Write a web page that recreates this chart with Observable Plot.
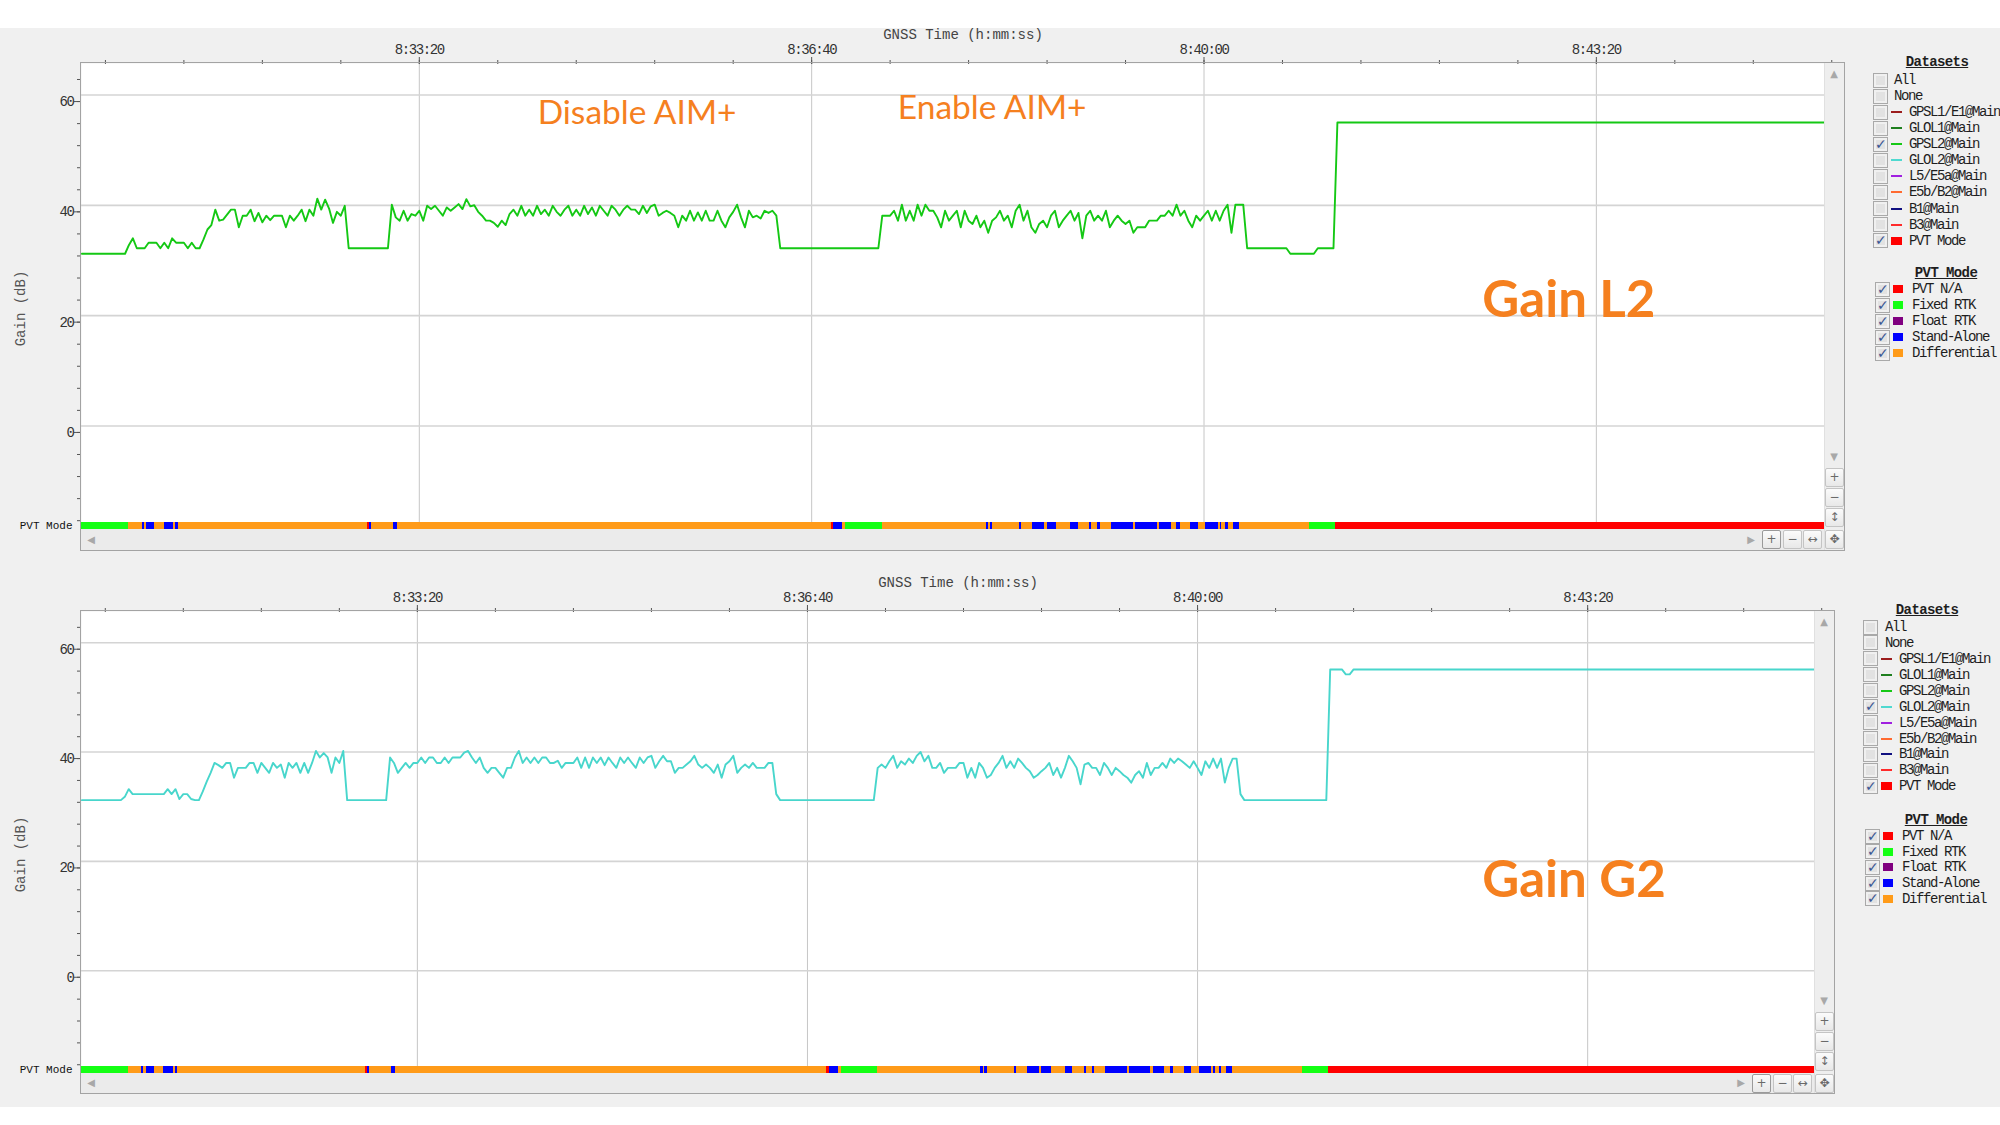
<!DOCTYPE html>
<html>
<head>
<meta charset="utf-8">
<title>Gain L2 / Gain G2</title>
<script src="https://cdn.jsdelivr.net/npm/d3@7"></script>
<script src="https://cdn.jsdelivr.net/npm/@observablehq/plot@0.6"></script>
<style>
  html, body { margin:0; padding:0; width:2000px; height:1125px; overflow:hidden; background:#ffffff; }
  #stage { position:relative; width:2000px; height:1125px; overflow:hidden; }
  .bg { position:absolute; left:0; top:28px; width:2000px; height:1079px; background:#f0f0f0; }
  .abs { position:absolute; box-sizing:border-box; }
  .gui { position:absolute; font-family:'Liberation Mono','DejaVu Sans Mono',monospace; font-size:14px; letter-spacing:-1.4px; color:#1e1e1e; white-space:nowrap; line-height:14px; }
  .gui.head { font-weight:bold; letter-spacing:-0.6px; text-decoration:underline; transform:translateX(-50%); }
  g[aria-label$="tick label"] text, g[aria-label="gui-label"] text { letter-spacing:-1.4px; }
  .btn { position:absolute; width:19px; height:19px; box-sizing:border-box; border:1px solid #c4c4c4; border-radius:2px; background:linear-gradient(#fbfbfb,#e8e8e8); color:#6a6a6a; font:12px 'DejaVu Sans',sans-serif; text-align:center; line-height:17px; }
  .arrow { position:absolute; color:#a8a8a8; font:10px 'DejaVu Sans',sans-serif; line-height:10px; transform:translate(-50%,-50%); }
  .chk { position:absolute; width:15px; height:15px; box-sizing:border-box; border:1px solid #a9a9a9; background:#e2e2e2; box-shadow: inset 0 0 0 2px #f0f0f0; }
  .chk span { position:absolute; left:1px; top:-2px; font:bold 14px 'DejaVu Sans',sans-serif; color:#3b5694; }
</style>
</head>
<body>
<div id="stage"><div class="bg"></div></div>
<script>
// ---------------- data ----------------
const clockBase = "8:30:00";
const sampleStartSec = 28;   // first sample at 8:30:28
const sampleStepSec = 2;     // one gain reading every 2 s

// GPSL2@Main gain (dB), top chart
const gainL2 = [
  32.4,32.4,32.4,32.4,32.4,32.4,32.4,32.4,32.4,32.4, // 8:30:28
  32.4,32.4,34.0,35.2,33.4,33.4,33.4,34.4,34.4,34.4, // 8:30:48
  33.4,34.4,33.4,35.2,34.4,34.4,34.4,33.4,34.4,33.4, // 8:31:08
  33.4,35.0,36.8,37.6,40.4,38.4,38.6,39.5,40.4,40.4, // 8:31:28
  37.2,39.3,39.3,40.4,38.3,39.8,38.1,39.3,38.5,39.3, // 8:31:48
  39.3,39.3,37.2,39.3,38.4,39.3,40.4,38.3,40.4,39.3, // 8:32:08
  42.4,40.4,42.2,40.6,38.0,40.0,39.3,41.1,33.4,33.4, // 8:32:28
  33.4,33.4,33.4,33.4,33.4,33.4,33.4,33.4,33.4,41.3, // 8:32:48
  39.0,38.4,40.2,38.4,39.6,39.3,40.2,38.4,41.1,40.5, // 8:33:08
  41.1,40.2,39.3,40.8,40.2,40.8,41.4,40.5,42.3,41.0, // 8:33:28
  41.2,40.0,39.3,38.4,38.4,38.0,37.3,38.4,37.6,39.6, // 8:33:48
  40.4,39.3,41.1,39.3,40.4,39.3,41.1,39.6,40.4,39.3, // 8:34:08
  41.1,40.0,39.3,40.4,41.1,39.3,40.4,39.3,41.1,39.6, // 8:34:28
  40.8,39.3,41.1,40.2,39.3,41.1,40.4,39.3,40.4,41.1, // 8:34:48
  40.4,40.4,39.6,41.1,39.8,41.0,41.3,39.3,39.8,40.2, // 8:35:08
  39.8,39.3,37.2,39.3,38.4,40.2,38.4,39.9,38.4,40.2, // 8:35:28
  38.4,38.4,40.2,38.4,37.2,39.0,40.0,41.3,39.0,37.2, // 8:35:48
  40.2,39.0,39.3,38.8,40.2,39.8,40.2,39.3,33.4,33.4, // 8:36:08
  33.4,33.4,33.4,33.4,33.4,33.4,33.4,33.4,33.4,33.4, // 8:36:28
  33.4,33.4,33.4,33.4,33.4,33.4,33.4,33.4,33.4,33.4, // 8:36:48
  33.4,33.4,33.4,33.4,39.3,39.3,39.3,40.2,38.4,41.3, // 8:37:08
  38.4,40.2,38.4,41.3,39.3,41.3,40.2,40.2,39.0,37.2, // 8:37:28
  40.2,38.4,39.3,40.2,37.2,40.2,38.4,37.8,39.3,37.2, // 8:37:48
  38.4,36.2,38.4,39.0,40.2,38.4,39.3,37.2,40.2,41.3, // 8:38:08
  38.4,40.2,37.2,36.2,37.8,38.4,37.2,39.3,40.2,37.2, // 8:38:28
  38.4,39.3,40.2,38.4,39.8,35.2,39.3,40.2,38.4,39.3, // 8:38:48
  38.4,40.2,37.2,38.4,39.3,38.4,37.8,38.4,36.2,37.2, // 8:39:08
  37.2,37.2,38.4,38.4,38.4,39.3,39.3,40.2,39.3,41.3, // 8:39:28
  39.3,40.2,38.4,37.2,39.3,38.4,39.3,40.2,38.4,40.2, // 8:39:48
  38.4,40.2,41.3,36.2,41.3,41.3,41.3,33.4,33.4,33.4, // 8:40:08
  33.4,33.4,33.4,33.4,33.4,33.4,33.4,33.4,32.4,32.4, // 8:40:28
  32.4,32.4,32.4,32.4,32.4,33.4,33.4,33.4,33.4,33.4, // 8:40:48
  56.2,56.2,56.2,56.2,56.2,56.2,56.2,56.2,56.2,56.2, // 8:41:08
  56.2,56.2,56.2,56.2,56.2,56.2,56.2,56.2,56.2,56.2, // 8:41:28
  56.2,56.2,56.2,56.2,56.2,56.2,56.2,56.2,56.2,56.2, // 8:41:48
  56.2,56.2,56.2,56.2,56.2,56.2,56.2,56.2,56.2,56.2, // 8:42:08
  56.2,56.2,56.2,56.2,56.2,56.2,56.2,56.2,56.2,56.2, // 8:42:28
  56.2,56.2,56.2,56.2,56.2,56.2,56.2,56.2,56.2,56.2, // 8:42:48
  56.2,56.2,56.2,56.2,56.2,56.2,56.2,56.2,56.2,56.2, // 8:43:08
  56.2,56.2,56.2,56.2,56.2,56.2,56.2,56.2,56.2,56.2, // 8:43:28
  56.2,56.2,56.2,56.2,56.2,56.2,56.2,56.2,56.2,56.2, // 8:43:48
  56.2,56.2,56.2,56.2,56.2,56.2,56.2,56.2,56.2,56.2, // 8:44:08
  56.2,56.2,56.2,56.2,56.2,56.2,56.2,56.2,56.2,56.2, // 8:44:28
  56.2,56.2,56.2,56.2,56.2,56.2,56.2,56.2,56.2,56.2, // 8:44:48
  56.2,56.2,56.2,56.2,56.2                           // 8:45:08
];

// GLOL2@Main gain (dB), bottom chart
const gainG2 = [
  32.4,32.4,32.4,32.4,32.4,32.4,32.4,32.4,32.4,32.4, // 8:30:28
  32.4,33.0,34.4,33.5,33.5,33.5,33.5,33.5,33.5,33.5, // 8:30:48
  33.5,33.5,34.4,33.5,34.4,32.6,33.5,33.5,32.6,32.4, // 8:31:08
  32.4,34.0,35.8,37.4,39.2,38.8,38.3,39.2,39.2,36.5, // 8:31:28
  38.3,38.3,38.3,39.2,39.2,37.4,39.2,38.3,37.4,39.2, // 8:31:48
  38.3,38.9,36.5,39.2,38.3,39.2,37.4,39.2,37.4,39.2, // 8:32:08
  41.4,40.2,41.0,40.2,37.4,40.2,39.2,41.4,32.4,32.4, // 8:32:28
  32.4,32.4,32.4,32.4,32.4,32.4,32.4,32.4,32.4,40.2, // 8:32:48
  39.2,37.4,38.3,39.2,38.3,39.2,39.2,40.2,39.2,40.2, // 8:33:08
  40.2,39.2,39.2,40.2,39.2,40.2,40.2,40.2,41.1,41.4, // 8:33:28
  40.2,39.2,40.2,38.3,37.4,38.3,38.3,37.4,36.5,38.3, // 8:33:48
  38.3,40.2,41.4,39.2,40.2,39.2,40.2,39.2,40.2,40.2, // 8:34:08
  39.2,39.2,39.6,38.3,39.2,39.2,39.2,40.2,38.3,40.2, // 8:34:28
  38.3,40.2,39.2,40.2,38.8,40.2,39.2,38.3,40.2,39.2, // 8:34:48
  40.2,39.2,38.3,40.2,39.2,40.2,40.5,38.3,39.5,40.5, // 8:35:08
  39.5,39.5,37.4,38.3,38.3,38.9,39.5,40.5,38.9,38.3, // 8:35:28
  38.9,38.3,37.4,38.9,36.5,38.9,39.5,40.5,37.4,38.3, // 8:35:48
  38.9,38.3,39.2,38.3,38.3,38.3,39.2,39.2,33.5,32.4, // 8:36:08
  32.4,32.4,32.4,32.4,32.4,32.4,32.4,32.4,32.4,32.4, // 8:36:28
  32.4,32.4,32.4,32.4,32.4,32.4,32.4,32.4,32.4,32.4, // 8:36:48
  32.4,32.4,32.4,32.4,38.3,38.9,38.3,39.5,40.5,38.3, // 8:37:08
  39.5,38.9,40.0,39.2,40.5,41.2,39.5,40.5,38.3,38.3, // 8:37:28
  39.2,37.4,38.3,38.3,38.3,39.2,39.2,36.5,38.3,36.5, // 8:37:48
  39.2,38.3,36.5,37.0,38.3,39.2,40.5,38.3,39.5,38.3, // 8:38:08
  40.0,39.2,38.3,37.7,36.5,37.0,37.7,38.3,39.2,37.0, // 8:38:28
  38.3,36.5,38.3,40.5,39.5,38.3,35.3,38.9,39.2,38.3, // 8:38:48
  38.3,37.0,39.2,38.3,37.0,38.3,37.7,37.0,36.5,35.6, // 8:39:08
  37.0,37.7,36.5,39.2,37.0,38.3,38.3,39.2,38.3,40.0, // 8:39:28
  39.2,40.0,39.5,38.9,38.3,39.5,38.3,37.0,39.5,38.3, // 8:39:48
  40.0,38.3,40.0,35.6,38.3,40.0,40.0,33.5,32.4,32.4, // 8:40:08
  32.4,32.4,32.4,32.4,32.4,32.4,32.4,32.4,32.4,32.4, // 8:40:28
  32.4,32.4,32.4,32.4,32.4,32.4,32.4,32.4,32.4,32.4, // 8:40:48
  56.3,56.3,56.3,56.3,55.4,55.4,56.3,56.3,56.3,56.3, // 8:41:08
  56.3,56.3,56.3,56.3,56.3,56.3,56.3,56.3,56.3,56.3, // 8:41:28
  56.3,56.3,56.3,56.3,56.3,56.3,56.3,56.3,56.3,56.3, // 8:41:48
  56.3,56.3,56.3,56.3,56.3,56.3,56.3,56.3,56.3,56.3, // 8:42:08
  56.3,56.3,56.3,56.3,56.3,56.3,56.3,56.3,56.3,56.3, // 8:42:28
  56.3,56.3,56.3,56.3,56.3,56.3,56.3,56.3,56.3,56.3, // 8:42:48
  56.3,56.3,56.3,56.3,56.3,56.3,56.3,56.3,56.3,56.3, // 8:43:08
  56.3,56.3,56.3,56.3,56.3,56.3,56.3,56.3,56.3,56.3, // 8:43:28
  56.3,56.3,56.3,56.3,56.3,56.3,56.3,56.3,56.3,56.3, // 8:43:48
  56.3,56.3,56.3,56.3,56.3,56.3,56.3,56.3,56.3,56.3, // 8:44:08
  56.3,56.3,56.3,56.3,56.3,56.3,56.3,56.3,56.3,56.3, // 8:44:28
  56.3,56.3,56.3,56.3,56.3,56.3,56.3,56.3,56.3,56.3, // 8:44:48
  56.3,56.3,56.3,56.3,56.3                           // 8:45:08
];

// PVT mode timeline (seconds after 8:30:00)
const pvtModes = ["PVT N/A", "Fixed RTK", "Float RTK", "Stand-Alone", "Differential"];
const pvtModeColors = ["#ff0000", "#14ff14", "#800080", "#0000ff", "#ff9b19"];
const pvtCodeNames = {R: "PVT N/A", G: "Fixed RTK", P: "Float RTK", B: "Stand-Alone", O: "Differential"};
const pvtSegmentStartSec = [
  27.6, 51.9, 58.8, 59.7, 61.0, 65.2, 70.0, 74.8, 75.9, 77.1,
  173.6, 174.4, 175.5, 186.7, 188.7,
  409.9, 411.3, 415.7, 417.2, 436.0,
  488.9, 490.1, 491.0, 492.1, 506.1, 507.2, 512.7, 518.9, 520.1, 524.9,
  532.2, 535.8, 541.8, 542.9, 545.9, 547.3, 552.8, 564.2, 565.1, 576.1,
  577.3, 583.2, 586.0, 587.8, 593.1, 597.0, 600.9, 607.3, 608.2, 609.1,
  611.1, 612.3, 615.0, 618.0, 654.0, 667.2
];
const pvtSegmentCode = [
  "G","O","B","O","B","O","B","O","B","O",
  "R","B","O","B","O",
  "R","B","O","G","O",
  "B","O","B","O","B","O","B","O","B","O",
  "B","O","B","O","B","O","B","O","B","O",
  "B","O","B","O","B","O","B","O","B","O",
  "B","O","B","O","G","R"
];
const pvtEndSec = 916.3;

const xTickLabels = ["8:33:20", "8:36:40", "8:40:00", "8:43:20"];
const yTickLabels = ["60", "40", "20", "0"];

const datasetNames = ["All", "None", "GPSL1/E1@Main", "GLOL1@Main", "GPSL2@Main", "GLOL2@Main",
  "L5/E5a@Main", "E5b/B2@Main", "B1@Main", "B3@Main", "PVT Mode"];
const datasetColors = [null, null, "#9c1d1d", "#1f7f1f", "#16c816", "#4fd9d0",
  "#a020e0", "#ff6a30", "#101080", "#ff2a2a", "#ff0000"];
const checkedTop = ["GPSL2@Main", "PVT Mode"];
const checkedBottom = ["GLOL2@Main", "PVT Mode"];

const aimLabels = ["Disable AIM+", "Enable AIM+"];
const aimTimes = ["8:35:11", "8:38:12"];
const aimGains = [57.8, 58.7];
const panelLabels = ["Gain L2", "Gain G2"];
const panelLabelTimes = ["8:43:06", "8:43:13"];
const panelLabelGains = [23.9, 17.6];

// ---------------- helpers ----------------
const stage = document.getElementById("stage");
function clockSec(s) { const [h, m, sec] = s.split(":").map(Number); return h * 3600 + m * 60 + sec; }
const baseSec = clockSec(clockBase);
const dayMs = Date.UTC(2024, 0, 1);
const toDate = sec => new Date(dayMs + (baseSec + sec) * 1000);
const clockDate = s => toDate(clockSec(s) - baseSec);

const majorDates = xTickLabels.map(clockDate);
const labelOf = new Map(xTickLabels.map(s => [+clockDate(s), s]));
const minorDates = d3.range(40, 921, 40).map(toDate);
const yMajor = yTickLabels.map(Number);
const yMinor = d3.range(-16, 65, 4);
const yDomain = [-17.6, 66.9];
const pvtBandTop = -16.3;

const pvtRows = pvtSegmentStartSec.map((s, i) => ({
  start: toDate(s),
  end: toDate(i + 1 < pvtSegmentStartSec.length ? pvtSegmentStartSec[i + 1] : pvtEndSec),
  mode: pvtCodeNames[pvtSegmentCode[i]]
}));

function el(tag, cls, style, text) {
  const e = document.createElement(tag);
  if (cls) e.className = cls;
  Object.assign(e.style, style);
  if (text != null) e.textContent = text;
  stage.appendChild(e);
  return e;
}
const px = v => v + "px";

// ---------------- panels ----------------
const panels = [
  {series: gainL2, color: "#14c814", svgTop: 0, width: 1824, height: 529, top: 63,
   plotRight: 1824, frameRight: 1844, plotBottom: 529, frameBottom: 550, label: 0, aim: true,
   legend: {headX: 1937, headY: 62, rowY0: 80, rowDy: 16.07, chkX: 1873, swX: 1891, txtX: 1909, plainX: 1894,
            pvtHeadX: 1946, pvtHeadY: 273, pvtRowY0: 289, pvtRowDy: 16, pvtChkX: 1875, pvtSqX: 1893, pvtTxtX: 1912},
   checked: checkedTop},
  {series: gainG2, color: "#48d6cc", svgTop: 548, width: 1814, height: 525, top: 611,
   plotRight: 1814, frameRight: 1834, plotBottom: 1073, frameBottom: 1093, label: 1, aim: false,
   legend: {headX: 1927, headY: 609.5, rowY0: 627, rowDy: 15.93, chkX: 1863, swX: 1881, txtX: 1899, plainX: 1885,
            pvtHeadX: 1936, pvtHeadY: 820, pvtRowY0: 836, pvtRowDy: 15.7, pvtChkX: 1865, pvtSqX: 1883, pvtTxtX: 1902},
   checked: checkedBottom}
];

function drawPlot(p) {
  const rows = p.series.map((g, i) => ({time: toDate(sampleStartSec + i * sampleStepSec), gain: g}));
  const marks = [
    Plot.frame({fill: "#ffffff", stroke: "none"}),
    Plot.gridX(majorDates, {stroke: "#c6c6c6", strokeOpacity: 1, strokeWidth: 1}),
    Plot.gridY(yMajor, {stroke: "#d4d4d4", strokeOpacity: 1, strokeWidth: 1.6, dy: -6.5}),
    Plot.line(rows, {x: "time", y: "gain", stroke: p.color, strokeWidth: 1.9}),
    Plot.rect(pvtRows, {x1: "start", x2: "end", y1: yDomain[0], y2: pvtBandTop, fill: "mode", shapeRendering: "crispEdges"}),
    Plot.axisX(minorDates, {anchor: "top", tickSize: 4, tickFormat: () => "", stroke: "#555", label: null}),
    Plot.axisX(majorDates, {anchor: "top", tickSize: 7, tickPadding: 3, tickFormat: d => labelOf.get(+d), stroke: "#555", label: null}),
    Plot.axisY(yMinor, {anchor: "left", tickSize: 4, tickFormat: () => "", stroke: "#555", label: null}),
    Plot.axisY(yMajor, {anchor: "left", tickSize: 7, tickPadding: 1, tickFormat: d => String(d), stroke: "#555", label: null}),
    Plot.text(["GNSS Time (h:mm:ss)"], {text: d => d, frameAnchor: "top", textAnchor: "middle", lineAnchor: "middle", dy: -29, dx: 10, fill: "#444", ariaLabel: "gui-label"}),
    Plot.text(["Gain (dB)"], {text: d => d, frameAnchor: "left", textAnchor: "middle", lineAnchor: "middle", rotate: -90, dx: -61, dy: 12, fill: "#555", ariaLabel: "gui-label"}),
    Plot.text(["PVT Mode"], {text: d => d, frameAnchor: "left", y: (yDomain[0] + pvtBandTop) / 2, textAnchor: "end", dx: -9, fontSize: 11, fill: "#111", ariaLabel: "gui-label"}),
    Plot.text([panelLabels[p.label]], {text: d => d, x: () => clockDate(panelLabelTimes[p.label]), y: () => panelLabelGains[p.label],
      fontFamily: "Lato, 'Open Sans', sans-serif", fontWeight: "bold", fontSize: 51, fill: "#f5801f"})
  ];
  if (p.aim) {
    marks.push(Plot.text(aimLabels, {text: d => d, x: (d, i) => clockDate(aimTimes[i]), y: (d, i) => aimGains[i],
      fontFamily: "Lato, 'Open Sans', sans-serif", fontSize: 33.5, fill: "#f5801f"}));
  }
  const svg = Plot.plot({
    width: p.width, height: p.height,
    marginTop: p.top - p.svgTop, marginLeft: 81, marginRight: 0, marginBottom: 0,
    style: {background: "transparent", overflow: "visible", fontFamily: "'Liberation Mono','DejaVu Sans Mono',monospace", fontSize: "14px", color: "#333"},
    x: {type: "utc", domain: [toDate(27.8), toDate(pvtEndSec)], label: null},
    y: {domain: yDomain, label: null},
    color: {domain: pvtModes, range: pvtModeColors},
    marks
  });
  svg.style.position = "absolute";
  svg.style.left = "0px";
  svg.style.top = px(p.svgTop);
  svg.style.maxWidth = "none";
  stage.appendChild(svg);
}

function drawChrome(p) {
  const L = 81;
  el("div", "abs", {left: px(L), top: px(p.plotBottom), width: px(p.plotRight - L), height: px(p.frameBottom - p.plotBottom), background: "#ebebeb"});
  el("div", "abs", {left: px(p.plotRight), top: px(p.top), width: px(p.frameRight - p.plotRight), height: px(p.frameBottom - p.top), background: "#eeeeee", borderLeft: "1px solid #e0e0e0"});
  el("div", "abs", {left: px(L - 1), top: px(p.top - 1), width: px(p.frameRight - L + 2), height: px(p.frameBottom - p.top + 2), border: "1px solid #a3a3a3", pointerEvents: "none"});
  const midH = (p.plotBottom + p.frameBottom) / 2, midV = (p.plotRight + p.frameRight) / 2;
  el("div", "arrow", {left: px(L + 10), top: px(midH)}, "◀");
  el("div", "arrow", {left: px(p.plotRight - 73), top: px(midH)}, "▶");
  el("div", "arrow", {left: px(midV), top: px(p.top + 11)}, "▲");
  el("div", "arrow", {left: px(midV), top: px(p.plotBottom - 72)}, "▼");
  const hGlyph = ["+", "−", "↔", "✥"];
  [-62, -41, -21, 1].forEach((dx, i) => {
    const b = el("div", "btn", {left: px(p.plotRight + dx), top: px(p.plotBottom + 1)}, hGlyph[i]);
    if (i === 0) b.style.borderColor = "#9a9a9a";
  });
  const vGlyph = ["+", "−", "↕"];
  [-61, -41, -21].forEach((dy, i) => el("div", "btn", {left: px(p.plotRight + 1), top: px(p.plotBottom + dy)}, vGlyph[i]));
}

function checkbox(x, cy, on) {
  const b = el("div", "chk", {left: px(x), top: px(cy - 7.5)});
  if (on) { const s = document.createElement("span"); s.textContent = "✓"; b.appendChild(s); }
}
function label(text, x, cy, cls) {
  return el("div", "gui" + (cls ? " " + cls : ""), {left: px(x), top: px(cy - 7)}, text);
}

function drawLegend(p) {
  const c = p.legend;
  label("Datasets", c.headX, c.headY, "head");
  datasetNames.forEach((name, i) => {
    const cy = c.rowY0 + i * c.rowDy;
    checkbox(c.chkX, cy, p.checked.includes(name));
    const col = datasetColors[i];
    if (col == null) { label(name, c.plainX, cy); return; }
    if (name === "PVT Mode") el("div", "abs", {left: px(c.swX), top: px(cy - 4), width: "11px", height: "8px", background: col});
    else el("div", "abs", {left: px(c.swX), top: px(cy - 1), width: "11px", height: "2px", background: col});
    label(name, c.txtX, cy);
  });
  label("PVT Mode", c.pvtHeadX, c.pvtHeadY, "head");
  pvtModes.forEach((name, i) => {
    const cy = c.pvtRowY0 + i * c.pvtRowDy;
    checkbox(c.pvtChkX, cy, true);
    el("div", "abs", {left: px(c.pvtSqX), top: px(cy - 4), width: "10px", height: "8px", background: pvtModeColors[i]});
    label(name, c.pvtTxtX, cy);
  });
}

panels.forEach(p => { drawPlot(p); drawChrome(p); drawLegend(p); });
</script>
</body>
</html>
